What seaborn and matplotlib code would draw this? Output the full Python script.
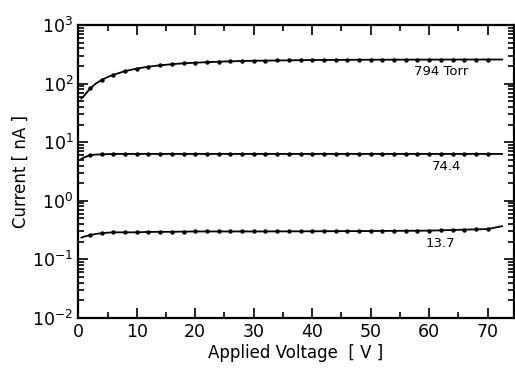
import numpy as np
import pandas as pd
import matplotlib
matplotlib.use("Agg")
import matplotlib.pyplot as plt
import matplotlib.ticker as mticker
import seaborn as sns

# Measured points (every 2 V)
volts = [2, 4, 6, 8, 10, 12, 14, 16, 18, 20, 22, 24, 26, 28, 30, 32, 34, 36,
         38, 40, 42, 44, 46, 48, 50, 52, 54, 56, 58, 60, 62, 64, 66, 68, 70]
cur_794 = [84, 115, 141, 163, 180, 194, 205, 214, 221, 227, 232, 236, 239, 242,
           245, 247, 249, 250, 251, 252, 253, 253, 254, 254, 255, 255, 255, 256,
           256, 256, 256, 257, 257, 257, 257]
cur_744 = [6.0, 6.2, 6.3, 6.3, 6.3, 6.3, 6.3, 6.3, 6.3, 6.3, 6.3, 6.3, 6.3, 6.3,
           6.3, 6.3, 6.3, 6.3, 6.3, 6.3, 6.3, 6.3, 6.3, 6.3, 6.3, 6.3, 6.3, 6.3,
           6.3, 6.3, 6.3, 6.3, 6.3, 6.3, 6.3]
cur_137 = [0.26, 0.28, 0.29, 0.29, 0.29, 0.295, 0.295, 0.295, 0.295, 0.3, 0.3,
           0.3, 0.3, 0.3, 0.3, 0.3, 0.3, 0.3, 0.3, 0.3, 0.305, 0.305, 0.305,
           0.305, 0.305, 0.305, 0.31, 0.31, 0.31, 0.31, 0.315, 0.315, 0.32,
           0.325, 0.33]

# Fitted curves
line_volts = [0.5, 1, 2, 3, 4, 5, 6, 8, 10, 12, 14, 17, 20, 25, 30, 40, 50, 60, 70, 72.5]
line_794 = [55, 62, 82, 100, 115, 129, 141, 163, 180, 194, 205, 218, 227, 238,
            245, 252, 255, 256, 257, 257]
line_744 = [5.2, 5.5, 6.0, 6.15, 6.2, 6.25, 6.3, 6.3, 6.3, 6.3, 6.3, 6.3, 6.3,
            6.3, 6.3, 6.3, 6.3, 6.3, 6.3, 6.3]
line_137 = [0.235, 0.245, 0.26, 0.272, 0.28, 0.286, 0.29, 0.29, 0.29, 0.295,
            0.295, 0.297, 0.3, 0.3, 0.3, 0.302, 0.305, 0.31, 0.33, 0.37]

labels = ["794 Torr", "74.4", "13.7"]
label_pos = [(62, 160), (63, 3.9), (62, 0.185)]

sns.set_style("ticks")
plt.rcParams["font.family"] = ["DejaVu Sans"]
plt.rcParams["text.color"] = "black"
plt.rcParams["axes.labelcolor"] = "black"

fig, ax = plt.subplots(figsize=(5.15, 3.72), dpi=100)
fig.subplots_adjust(left=0.152, right=0.998, top=0.933, bottom=0.145)

for cur, line in [(cur_794, line_794), (cur_744, line_744), (cur_137, line_137)]:
    sns.lineplot(x=line_volts, y=line, ax=ax, color="black", lw=1.3)
    sns.scatterplot(x=volts, y=cur, ax=ax, color="black", s=10,
                    edgecolor="black", linewidth=0, zorder=3)

for txt, (xx, yy) in zip(labels, label_pos):
    ax.text(xx, yy, txt, fontsize=9.5, ha="center", va="center", color="black")

ax.set_yscale("log")
ax.set_xlim(0, 74.5)
ax.set_ylim(1e-2, 1e3)
ax.xaxis.set_major_locator(mticker.MultipleLocator(10))
ax.xaxis.set_minor_locator(mticker.MultipleLocator(5))
ax.yaxis.set_major_locator(mticker.LogLocator(base=10, numticks=10))
ax.yaxis.set_minor_locator(mticker.LogLocator(base=10, subs=np.arange(2, 10), numticks=10))
ax.yaxis.set_minor_formatter(mticker.NullFormatter())

ax.tick_params(which="both", direction="in", top=True, right=True, width=1.2,
               labelsize=12.5, colors="black")
ax.tick_params(which="major", length=7)
ax.tick_params(which="minor", length=4)
for s in ax.spines.values():
    s.set_linewidth(1.6)
    s.set_color("black")

ax.set_xlabel("Applied Voltage  [ V ]", fontsize=12, labelpad=2)
ax.set_ylabel("Current [ nA ]", fontsize=12, labelpad=2)

fig.savefig("out.png", dpi=100)
